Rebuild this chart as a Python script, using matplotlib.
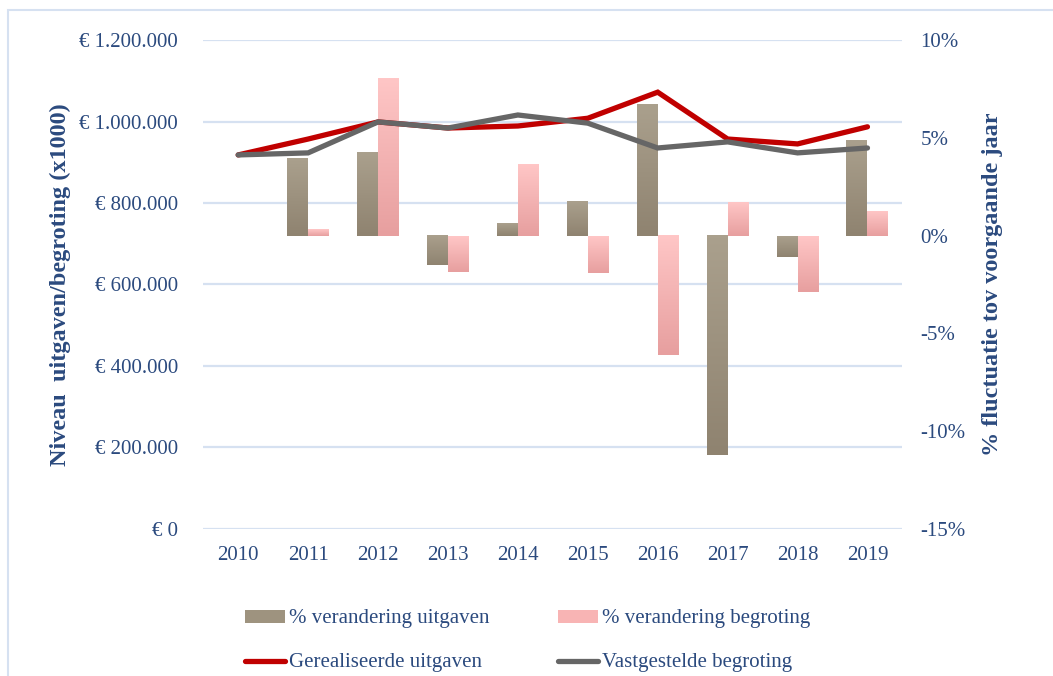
import numpy as np
import matplotlib
matplotlib.use("Agg")
import matplotlib.pyplot as plt
from matplotlib.colors import LinearSegmentedColormap
from matplotlib.patches import Patch, Rectangle
from matplotlib.lines import Line2D
from matplotlib.ticker import FuncFormatter

# Data
years = [2010, 2011, 2012, 2013, 2014, 2015, 2016, 2017, 2018, 2019]
gerealiseerd = [918000, 957000, 999000, 984000, 989000, 1008000, 1072000, 957000, 945000, 987000]
vastgesteld = [918000, 923000, 999000, 984000, 1016000, 996000, 935000, 950000, 923000, 935000]
bar_years = [2011, 2012, 2013, 2014, 2015, 2016, 2017, 2018, 2019]
pct_uitgaven = [3.97, 4.28, -1.5, 0.65, 1.77, 6.73, -11.2, -1.07, 4.89]
pct_begroting = [0.34, 8.06, -1.84, 3.67, -1.89, -6.1, 1.72, -2.86, 1.26]
left_ticks = [0, 200000, 400000, 600000, 800000, 1000000, 1200000]
right_ticks = [-15, -10, -5, 0, 5, 10]

txt = "#2B4A7E"
grid_c = "#D6E1F1"
plt.rcParams['font.family'] = ['Liberation Serif', 'DejaVu Serif']

fig = plt.figure(figsize=(10.53, 6.76), dpi=100)
ax = fig.add_axes([0.193, 0.2175, 0.664, 0.7233])
ax2 = ax.twinx()

# outer frame
fig.patches.append(Rectangle((8 / 1053, -0.05), 1.1, 1 - 10 / 676 + 0.05,
                             transform=fig.transFigure, fill=False,
                             edgecolor=grid_c, lw=1.5))

x = np.arange(len(years))
xb = np.array([years.index(y) for y in bar_years])
w = 0.3

brown = LinearSegmentedColormap.from_list("br", ["#AAA08D", "#8F8370"])
pink = LinearSegmentedColormap.from_list("pk", ["#FFC6C6", "#E79F9F"])
grad = np.linspace(0, 1, 64).reshape(-1, 1)


def grad_bars(xs, vals, cmap):
    for xi, v in zip(xs, vals):
        lo, hi = min(0, v), max(0, v)
        ax2.imshow(grad, cmap=cmap, extent=[xi - w / 2, xi + w / 2, lo, hi],
                   origin="upper", aspect="auto", interpolation="bilinear", zorder=2)


grad_bars(xb - w / 2, pct_uitgaven, brown)
grad_bars(xb + w / 2, pct_begroting, pink)

ax2.set_ylim(right_ticks[0], right_ticks[-1])
ax2.set_yticks(right_ticks)
ax2.yaxis.set_major_formatter(FuncFormatter(lambda v, p: f"{v:.0f}%"))

ax.plot(x, gerealiseerd, color="#C00000", lw=3.8, solid_capstyle="round",
        solid_joinstyle="miter", zorder=3)
ax.plot(x, vastgesteld, color="#666666", lw=3.8, solid_capstyle="round",
        solid_joinstyle="miter", zorder=4)
ax.set_ylim(left_ticks[0], left_ticks[-1])
ax.set_yticks(left_ticks)
ax.yaxis.set_major_formatter(FuncFormatter(
    lambda v, p: "€ " + f"{v:,.0f}".replace(",", ".")))
ax.set_zorder(ax2.get_zorder() + 1)
ax.patch.set_visible(False)

# gridlines of the left axis, drawn beneath the bars
for t in left_ticks:
    y2 = ax2.transData.inverted().transform(ax.transData.transform((0, t)))[1]
    ax2.axhline(y2, color=grid_c, lw=1.6, zorder=0)

ax.set_xlim(-0.5, len(years) - 0.5)
ax.set_xticks(x)
ax.set_xticklabels([str(y) for y in years])

for a in (ax, ax2):
    for s in a.spines.values():
        s.set_visible(False)
    a.tick_params(length=0, colors=txt, labelsize=15)
ax.tick_params(axis="y", pad=18)
ax2.tick_params(axis="y", pad=13)
ax.tick_params(axis="x", pad=12)

ax.set_ylabel("Niveau  uitgaven/begroting (x1000)", color=txt, fontsize=17.5,
              fontweight="bold", labelpad=6)
ax2.set_ylabel("% fluctuatie tov voorgaande jaar", color=txt, fontsize=17.5,
               fontweight="bold", rotation=90, labelpad=12)

handles = [
    Patch(facecolor="#9E937F", label="% verandering uitgaven"),
    Line2D([], [], color="#C00000", lw=3.8, solid_capstyle="round", label="Gerealiseerde uitgaven"),
    Patch(facecolor="#F8B4B4", label="% verandering begroting"),
    Line2D([], [], color="#666666", lw=3.8, solid_capstyle="round", label="Vastgestelde begroting"),
]
leg = fig.legend(handles=handles, ncol=2, loc="center left",
                 bbox_to_anchor=(245 / 1053, 1 - 641 / 676), frameon=False,
                 borderpad=0, borderaxespad=0,
                 fontsize=15, labelcolor=txt, handlelength=1.9, handleheight=0.6,
                 handletextpad=0.2, columnspacing=3.3, labelspacing=1.2)

fig.savefig("out.png", dpi=100)
